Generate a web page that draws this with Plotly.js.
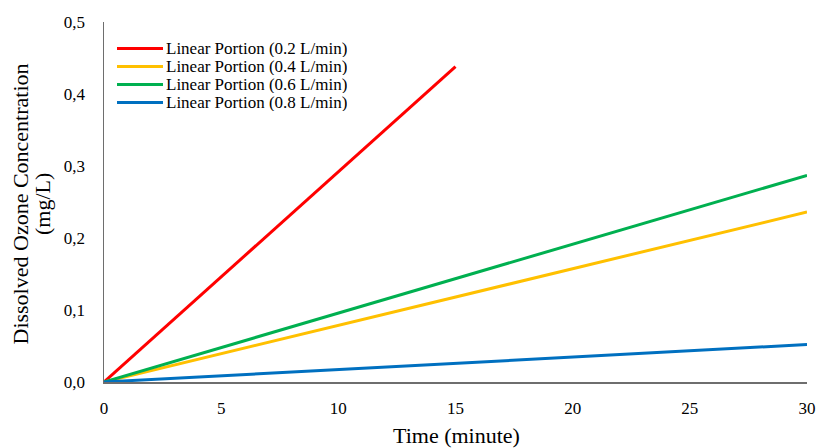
<!DOCTYPE html>
<html>
<head>
<meta charset="utf-8">
<script src="https://cdn.plot.ly/plotly-3.0.1.min.js"></script>
<style>html,body{margin:0;padding:0;background:#fff}#chart{width:819px;height:448px}</style>
</head>
<body>
<div id="chart"></div>
<script>
const seriesNames = ["Linear Portion (0.2 L/min)", "Linear Portion (0.4 L/min)", "Linear Portion (0.6 L/min)", "Linear Portion (0.8 L/min)"];
const timeRed = [0, 15];
const concRed = [0, 0.438];
const timeYellow = [0, 30];
const concYellow = [0, 0.236];
const timeGreen = [0, 30];
const concGreen = [0, 0.287];
const timeBlue = [0, 30];
const concBlue = [0, 0.052];
const xTicks = [0, 5, 10, 15, 20, 25, 30];
const yTicks = [0, 0.1, 0.2, 0.3, 0.4, 0.5];
const yTickLabels = ["0,0", "0,1", "0,2", "0,3", "0,4", "0,5"];
const yTitleLine1 = "Dissolved Ozone Concentration";
const yTitleLine2 = "(mg/L)";
const xTitle = "Time (minute)";
const colors = ["#FF0000", "#FFC000", "#00B050", "#0070C0"];

const W = 819, H = 448;
const M = {l: 104, r: 12, t: 22, b: 66};
const PW = W - M.l - M.r, PH = H - M.t - M.b;
const px = v => (v - M.l) / PW;
const py = v => (H - M.b - v) / PH;
const serif = "Liberation Serif";

const xs = [timeRed, timeYellow, timeGreen, timeBlue];
const ys = [concRed, concYellow, concGreen, concBlue];
const traces = xs.map((x, i) => ({
  x: x, y: ys[i], name: seriesNames[i], type: "scatter", mode: "lines",
  line: {color: colors[i], width: 3}, showlegend: false
}));

// custom legend (compact spacing as in the reference)
const shapes = [];
const annotations = [];
seriesNames.forEach((name, i) => {
  const yc = 48.5 + 18 * i;
  shapes.push({type: "line", xref: "paper", yref: "paper",
    x0: px(117), x1: px(163), y0: py(yc), y1: py(yc),
    line: {color: colors[i], width: 3}});
  annotations.push({xref: "paper", yref: "paper", x: px(165), y: py(yc),
    xanchor: "left", yanchor: "middle", showarrow: false, text: name,
    height: 17, borderpad: 0,
    font: {family: serif, size: 17, color: "#000"}});
});
annotations.push({xref: "paper", yref: "paper", x: px(42.5), y: py(204.5),
  xanchor: "center", yanchor: "middle", showarrow: false, text: yTitleLine2, textangle: -90,
  font: {family: serif, size: 22, color: "#000"}});
annotations.push({xref: "paper", yref: "paper", x: px(20), y: py(204.5),
  xanchor: "center", yanchor: "middle", showarrow: false, text: yTitleLine1, textangle: -90,
  font: {family: serif, size: 22, color: "#000"}});
annotations.push({xref: "paper", yref: "paper", x: px(456), y: py(436),
  xanchor: "center", yanchor: "middle", showarrow: false, text: xTitle,
  font: {family: serif, size: 22, color: "#000"}});

const layout = {
  width: W, height: H,
  margin: M,
  paper_bgcolor: "#fff", plot_bgcolor: "#fff",
  showlegend: false,
  shapes: shapes,
  annotations: annotations,
  xaxis: {range: [0, 30], tickvals: xTicks, showgrid: false, zeroline: false,
    showline: true, linecolor: "#6e6e6e", linewidth: 1.5,
    ticks: "outside", ticklen: 10, tickcolor: "rgba(0,0,0,0)",
    tickfont: {family: serif, size: 17, color: "#000"}},
  yaxis: {range: [0, 0.5], tickvals: yTicks, ticktext: yTickLabels, showgrid: false, zeroline: false,
    showline: true, linecolor: "#6e6e6e", linewidth: 1.5,
    ticks: "outside", ticklen: 14, tickcolor: "rgba(0,0,0,0)",
    tickfont: {family: serif, size: 17, color: "#000"}}
};
Plotly.newPlot("chart", traces, layout, {displayModeBar: false, staticPlot: true});
</script>
</body>
</html>
